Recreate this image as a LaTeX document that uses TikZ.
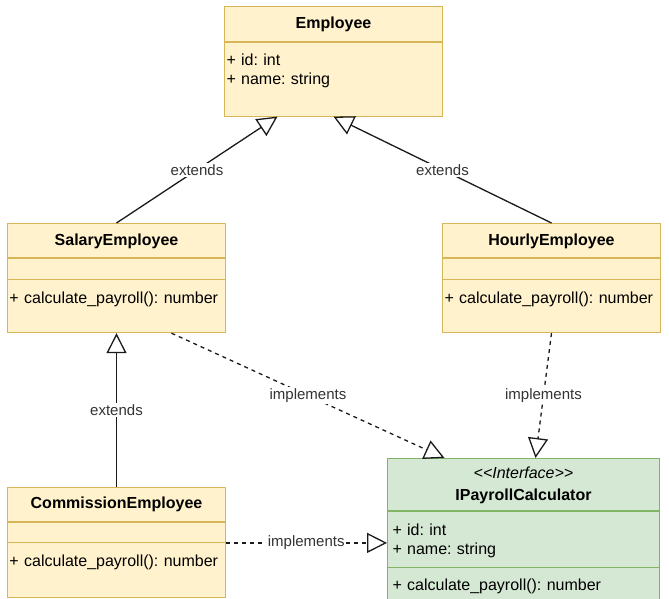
\documentclass[tikz,border=0pt]{standalone}
\usepackage{fontspec}
\setmainfont{Liberation Sans}
\usetikzlibrary{arrows.meta,positioning,matrix}
\definecolor{clsfill}{HTML}{FFF2CC}
\definecolor{clsline}{HTML}{D6B656}
\definecolor{ifcfill}{HTML}{D5E8D4}
\definecolor{ifcline}{HTML}{82B366}
\definecolor{linkcol}{HTML}{1A1A1A}
\definecolor{lblcol}{HTML}{333333}
\frenchspacing

\begin{document}
\begin{tikzpicture} [x=1pt, y=1pt, font=\fontsize{16}{19}\selectfont,
		 class/.style={matrix of nodes, inner sep=0pt, outer sep=0pt, row sep=-\pgflinewidth,
		 nodes={rectangle,draw=clsline,fill=clsfill,line width=1pt,inner xsep=2pt,inner ysep=0pt,outer sep=0pt},
		 nodes in empty cells, column 1/.style={text width=214pt}},
		 iface/.style={class, nodes={draw=ifcline,fill=ifcfill,inner xsep=5pt}, column 1/.style={text width=262pt}},
		 ext/.style={draw=linkcol, line width=1.3pt, -{Triangle[open,length=20pt,width=20pt]}},
		 impl/.style={ext, dash pattern=on 4pt off 4pt},
		 lbl/.style={fill=white, inner sep=1.5pt, text=lblcol, font=\fontsize{15}{18}\selectfont}]
\useasboundingbox [fill=white] (0,0) rectangle (669,-599);
\clip (0,0) rectangle (669,-599);
\matrix [class, anchor=north west,
		 row 1/.style = { align=center, text height=22pt, text depth=13pt},
		 row 2/.style = { align=left, text height=23pt, text depth=51pt},
	] (employee) at (224,-6) {
\textbf{Employee} \\
{+ id: int\\+ name: string} \\
};
\matrix [class, anchor=north west,
		 row 1/.style = { align=center, text height=22pt, text depth=12pt},
		 row 2/.style = { text height=21pt, text depth=0pt},
		 row 3/.style = { align=left, text height=24pt, text depth=29pt},
	] (salary) at (7,-223) {
\textbf{SalaryEmployee} \\
 \\
+ calculate\_payroll(): number \\
};
\matrix [class, right=216pt of salary,
		 row 1/.style = { align=center, text height=22pt, text depth=12pt},
		 row 2/.style = { text height=21pt, text depth=0pt},
		 row 3/.style = { align=left, text height=24pt, text depth=29pt},
	] (hourly) {
\textbf{HourlyEmployee} \\
 \\
+ calculate\_payroll(): number \\
};
\matrix [class, below=154pt of salary,
		 row 1/.style = { align=center, text height=21pt, text depth=13pt},
		 row 2/.style = { text height=20pt, text depth=0pt},
		 row 3/.style = { align=left, text height=24pt, text depth=31pt},
	] (commission) {
\textbf{CommissionEmployee} \\
 \\
+ calculate\_payroll(): number \\
};
\matrix [iface, anchor=north west,
		 row 1/.style = { align=center, text height=20pt, text depth=32pt},
		 row 2/.style = { align=left, text height=24pt, text depth=32pt},
		 row 3/.style = { align=left, text height=23pt, text depth=30pt},
	] (iface) at (387,-458) {
{\textit{<{}<Interface>{}>}\\[3pt]\textbf{IPayrollCalculator}} \\
{+ id: int\\+ name: string} \\
+ calculate\_payroll(): number \\
};
\draw [ext] (salary.north) -- node [lbl] {extends} ([xshift=-56pt]employee.south);
\draw [ext] (hourly.north) -- node [lbl] {extends} (employee.south);
\draw [ext] (commission.north) -- node [lbl] {extends} (salary.south);
\draw [impl] ([xshift=55pt]salary.south) -- node [lbl] {implements} ([xshift=-79pt]iface.north);
\draw [impl] (hourly.south) -- node [lbl] {implements} ([xshift=12pt]iface.north);
\draw [impl] (commission-3-1.north east) -- node [lbl] {implements} (commission-3-1.north east -| iface.west);
\end{tikzpicture}
\end{document}
